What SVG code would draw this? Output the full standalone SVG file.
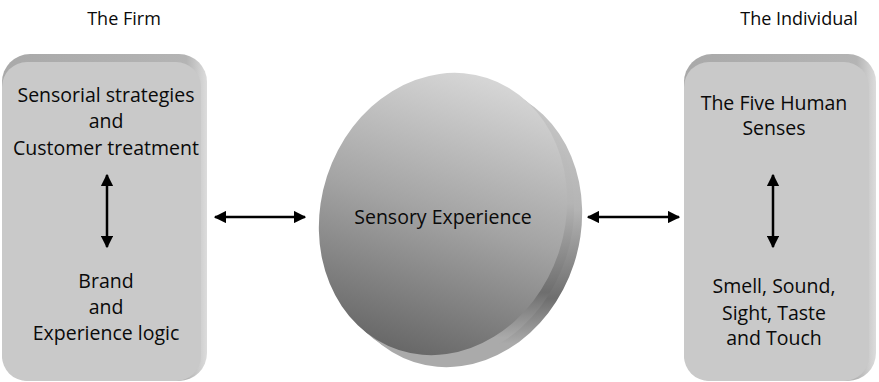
<svg xmlns="http://www.w3.org/2000/svg" width="879" height="382" viewBox="0 0 879 382">
<style>
text{font-family:"Open Sans","Liberation Sans",sans-serif;font-size:19.5px;fill:#0a0a0a;text-anchor:middle}
text.hdr{font-size:18px}
.conn{stroke:#000;stroke-width:2.5;fill:none;marker-start:url(#ah);marker-end:url(#ah)}
.bevel{fill:url(#bevelG)}
.face{fill:#c9c9c9}
</style>
<defs>
<marker id="ah" viewBox="0 0 10 10" refX="9" refY="5" markerWidth="5" markerHeight="5" orient="auto-start-reverse" markerUnits="strokeWidth">
<path d="M0,0 L10,5 L0,10 z" fill="#000"/>
</marker>
<linearGradient id="bevelG" x1="0" y1="0" x2="1" y2="0">
<stop offset="0" stop-color="#a9a9a9"/>
<stop offset="0.9" stop-color="#b4b4b4"/>
<stop offset="1" stop-color="#dcdcdc"/>
</linearGradient>
<linearGradient id="discG" x1="0" y1="0" x2="0" y2="1">
<stop offset="0" stop-color="#d6d6d6"/>
<stop offset="0.5" stop-color="#a4a4a4"/>
<stop offset="1" stop-color="#686868"/>
</linearGradient>
<linearGradient id="sideG" x1="0" y1="0" x2="0.3" y2="1">
<stop offset="0" stop-color="#d0d0d0"/>
<stop offset="0.55" stop-color="#b4b4b4"/>
<stop offset="0.85" stop-color="#6e6e6e"/>
<stop offset="1" stop-color="#aaaaaa"/>
</linearGradient>
</defs>

<g id="header-firm"><text class="hdr" x="124" y="25">The Firm</text></g>
<g id="header-individual"><text class="hdr" x="799" y="25">The Individual</text></g>

<g id="firm">
<rect class="bevel" x="2" y="54" width="205" height="327" rx="28"/>
<rect class="face" x="2" y="62" width="199" height="319" rx="25"/>
<text x="106" y="102">Sensorial strategies</text>
<text x="106" y="128">and</text>
<text x="106" y="155">Customer treatment</text>
<text x="106" y="288">Brand</text>
<text x="106" y="314">and</text>
<text x="106" y="340">Experience logic</text>
</g>

<g id="sensory">
<ellipse cx="458" cy="226" rx="122" ry="143" transform="rotate(18 458 226)" fill="url(#sideG)"/>
<ellipse cx="450" cy="220" rx="122" ry="143" transform="rotate(18 450 220)" fill="url(#sideG)"/>
<ellipse cx="443" cy="214" rx="122" ry="143" transform="rotate(18 443 214)" fill="url(#discG)"/>
<text x="443" y="224">Sensory Experience</text>
</g>

<g id="individual">
<rect class="bevel" x="684" y="54" width="192" height="327" rx="28"/>
<rect class="face" x="684" y="62" width="185" height="319" rx="25"/>
<text x="774" y="110">The Five Human</text>
<text x="774" y="135">Senses</text>
<text x="774" y="293">Smell, Sound,</text>
<text x="774" y="320">Sight, Taste</text>
<text x="774" y="345">and Touch</text>
</g>

<g id="connectors">
<line class="conn" x1="215" y1="217" x2="305" y2="217"/>
<line class="conn" x1="588" y1="217" x2="679" y2="217"/>
<line class="conn" x1="107" y1="175" x2="107" y2="247"/>
<line class="conn" x1="773" y1="175" x2="773" y2="247"/>
</g>
</svg>
